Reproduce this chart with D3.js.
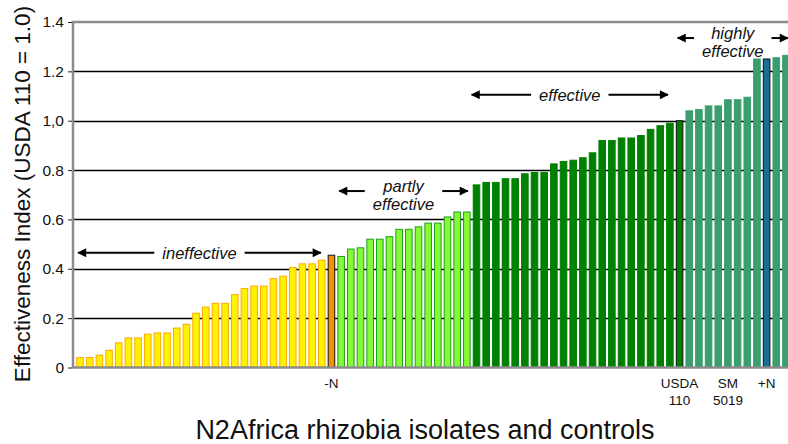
<!DOCTYPE html>
<html>
<head>
<meta charset="utf-8">
<script src="https://cdn.jsdelivr.net/npm/d3@7"></script>
<style>
  body { margin: 0; background: #fff; }
  svg { display: block; font-family: Arial, "Liberation Sans", sans-serif; }
</style>
</head>
<body>
<div id="chart"></div>
<script>
// effectiveness index per isolate / control, sorted
const values = [
    0.04, 0.04, 0.05, 0.07, 0.10, 0.12, 0.12, 0.135, 0.14, 0.14,
    0.16, 0.175, 0.22, 0.245, 0.26, 0.26, 0.295, 0.32, 0.33, 0.33,
    0.36, 0.37, 0.405, 0.42, 0.42, 0.435, 0.455, 0.45, 0.48, 0.485,
    0.52, 0.52, 0.53, 0.56, 0.56, 0.57, 0.585, 0.585, 0.61, 0.63,
    0.63, 0.74, 0.75, 0.75, 0.765, 0.765, 0.785, 0.79, 0.79, 0.825,
    0.835, 0.84, 0.85, 0.87, 0.92, 0.92, 0.93, 0.93, 0.94, 0.965,
    0.98, 0.99, 1.0, 1.04, 1.045, 1.06, 1.06, 1.085, 1.085, 1.095,
    1.25, 1.25, 1.255, 1.265
];

// runs of bars: [group, count]
const groupRuns = [
    ["ineffective", 26],
    ["minusN", 1],
    ["partly", 14],
    ["effective", 21],
    ["usda", 1],
    ["high", 8],
    ["plusN", 1],
    ["high", 2]
];

const xLabels = [
    [26, ["-N"]],
    [62, ["USDA", "110"]],
    [67, ["SM", "5019"]],
    [71, ["+N"]]
];

const yTicks = [0, 0.2, 0.4, 0.6, 0.8, 1.0, 1.2, 1.4];
const yTickLabels = ["0", "0.2", "0.4", "0.6", "0.8", "1,0", "1.2", "1.4"];

// [label lines, from bar, to bar, y value]
const annotations = [
    [["ineffective"], -0.2, 24.9, 0.465],
    [["partly", "effective"], 26.8, 40.1, 0.715],
    [["effective"], 40.5, 60.8, 1.105],
    [["highly", "effective"], 61.8, 73.2, 1.335]
];

const colors = {
    ineffective: { fill: "#fff200", stroke: "#ffa800" },
    minusN: { fill: "#f39200", stroke: "#111" },
    partly: { fill: "#84fb34", stroke: "#1f9e1f" },
    effective: { fill: "#008000", stroke: "#008000" },
    usda: { fill: "#008000", stroke: "#111" },
    high: { fill: "#3a9e6e", stroke: "#3a9e6e" },
    plusN: { fill: "#1d6b98", stroke: "#111" }
};

const groups = [];
groupRuns.forEach(([g, n]) => { for (let i = 0; i < n; i++) groups.push(g); });

const width = 788, height = 444;
const plotLeft = 73, plotTop = 22, plotBottom = 367.5;

const svg = d3.select("#chart").append("svg")
    .attr("width", width)
    .attr("height", height);

const x = d3.scaleBand()
    .domain(d3.range(values.length))
    .range([75.2, 75.2 + 9.67 * values.length])
    .paddingInner(0.32)
    .paddingOuter(0.16);

const y = d3.scaleLinear()
    .domain([0, 1.4])
    .range([plotBottom, plotTop]);

// gridlines
svg.append("g")
    .selectAll("line")
    .data(yTicks.filter(d => d > 0 && d < 1.4))
    .join("line")
    .attr("x1", plotLeft)
    .attr("x2", width)
    .attr("y1", d => Math.round(y(d)) + 0.5)
    .attr("y2", d => Math.round(y(d)) + 0.5)
    .attr("stroke", "#000")
    .attr("stroke-width", 1.5);

// bars
svg.append("g")
    .selectAll("rect")
    .data(values)
    .join("rect")
    .attr("x", (d, i) => x(i))
    .attr("y", d => y(d))
    .attr("width", x.bandwidth())
    .attr("height", d => plotBottom - y(d))
    .attr("fill", (d, i) => colors[groups[i]].fill)
    .attr("stroke", (d, i) => colors[groups[i]].stroke)
    .attr("stroke-width", 1);

// frame + y axis
const frame = svg.append("g").attr("stroke", "#8c8c8c").attr("stroke-width", 2.5).attr("fill", "none");
frame.append("path")
    .attr("d", `M${width},${plotTop} H${plotLeft} V${plotBottom} H${width}`);

const yAxis = svg.append("g")
    .attr("transform", `translate(${plotLeft - 1},0)`)
    .call(d3.axisLeft(y).tickValues(yTicks).tickFormat((d, i) => yTickLabels[i]).tickSize(4).tickPadding(4));
yAxis.select(".domain").remove();
yAxis.selectAll(".tick line").attr("stroke", "#222");
yAxis.selectAll(".tick text")
    .attr("font-size", 15.5)
    .attr("font-family", "Arial, 'Liberation Sans', sans-serif")
    .attr("fill", "#111");

// category labels
const xl = svg.append("g")
    .selectAll("text")
    .data(xLabels)
    .join("text")
    .attr("x", d => x(d[0]) + x.bandwidth() / 2)
    .attr("y", 388)
    .attr("text-anchor", "middle")
    .attr("font-size", 13.5)
    .attr("fill", "#111");
xl.selectAll("tspan")
    .data(d => d[1])
    .join("tspan")
    .attr("x", function() { return d3.select(this.parentNode).attr("x"); })
    .attr("dy", (d, i) => i === 0 ? 0 : 17)
    .text(d => d);

// arrow marker
svg.append("defs").append("marker")
    .attr("id", "head")
    .attr("viewBox", "0 0 10 10")
    .attr("refX", 9)
    .attr("refY", 5)
    .attr("markerWidth", 5.5)
    .attr("markerHeight", 4.5)
    .attr("markerUnits", "strokeWidth")
    .attr("orient", "auto")
    .append("path")
    .attr("d", "M0,0 L10,5 L0,10 Z")
    .attr("fill", "#000");

// annotations
annotations.forEach(([lines, from, to, v]) => {
    const x0 = x(0) + x.step() * from + x.bandwidth() / 2;
    const x1 = x(0) + x.step() * to + x.bandwidth() / 2;
    const cx = (x0 + x1) / 2;
    const ay = y(v);
    const g = svg.append("g");
    const t = g.append("text")
        .attr("text-anchor", "middle")
        .attr("font-size", 16.5)
        .attr("font-style", "italic")
        .attr("fill", "#111");
    const lh = 18;
    const startY = ay + 6 - (lines.length - 1) * lh / 2 + (lines.length > 1 ? 4 : 0);
    lines.forEach((s, i) => {
        t.append("tspan").attr("x", cx).attr("y", startY + i * lh).text(s);
    });
    const tw = d3.max(t.selectAll("tspan").nodes(), n => n.getComputedTextLength());
    const gap = 8;
    g.append("line")
        .attr("x1", cx - tw / 2 - gap).attr("x2", x0)
        .attr("y1", ay).attr("y2", ay)
        .attr("stroke", "#000").attr("stroke-width", 2)
        .attr("marker-end", "url(#head)");
    g.append("line")
        .attr("x1", cx + tw / 2 + gap).attr("x2", x1)
        .attr("y1", ay).attr("y2", ay)
        .attr("stroke", "#000").attr("stroke-width", 2)
        .attr("marker-end", "url(#head)");
});

// axis titles
svg.append("text")
    .attr("transform", `translate(30,194) rotate(-90)`)
    .attr("text-anchor", "middle")
    .attr("font-size", 22.5)
    .attr("fill", "#111")
    .text("Effectiveness Index (USDA 110 = 1.0)");

svg.append("text")
    .attr("x", 425)
    .attr("y", 439)
    .attr("text-anchor", "middle")
    .attr("font-size", 27)
    .attr("fill", "#111")
    .text("N2Africa rhizobia isolates and controls");
</script>
</body>
</html>
